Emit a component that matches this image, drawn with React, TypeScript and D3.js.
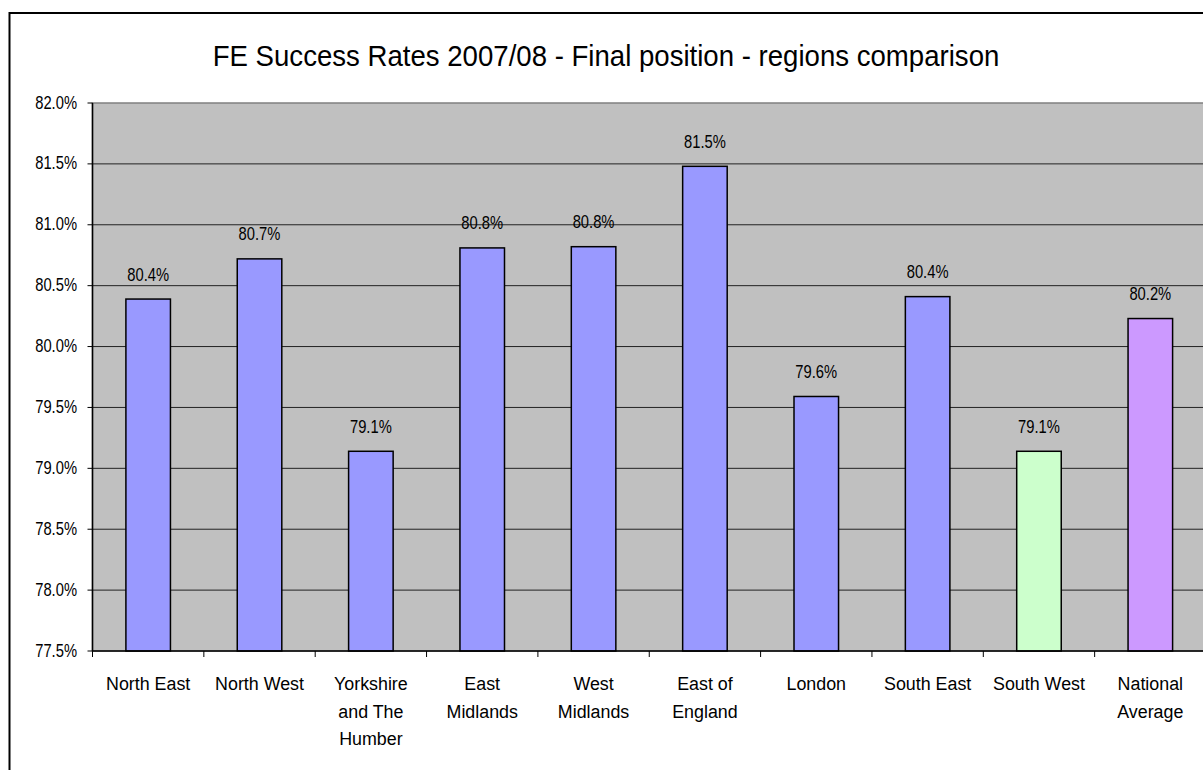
import React from 'react';
import { scaleBand, scaleLinear, range } from 'd3';

const categories = [
  ['North East'],
  ['North West'],
  ['Yorkshire', 'and The', 'Humber'],
  ['East', 'Midlands'],
  ['West', 'Midlands'],
  ['East of', 'England'],
  ['London'],
  ['South East'],
  ['South West'],
  ['National', 'Average'],
];
const rates = [80.39, 80.72, 79.14, 80.81, 80.82, 81.48, 79.59, 80.41, 79.14, 80.23];
const barColors = ['#9999FF', '#9999FF', '#9999FF', '#9999FF', '#9999FF', '#9999FF', '#9999FF', '#9999FF', '#CCFFCC', '#CC99FF'];
const yTicks = [77.5, 78.0, 78.5, 79.0, 79.5, 80.0, 80.5, 81.0, 81.5, 82.0];
const title = 'FE Success Rates 2007/08 - Final position - regions comparison';

const W = 1203;
const H = 770;
const plot = { left: 92.5, top: 103, right: 1206, bottom: 651 };

// text in the original is a bit narrower than Arial, so squeeze horizontally
const Txt = ({ x, y, size, sx, anchor = 'middle', children }: any) => (
  <text transform={`translate(${x},${y}) scale(${sx},1)`} textAnchor={anchor} fontSize={size} fill="#000">
    {children}
  </text>
);

const App = () => {
  const x = scaleBand<number>()
    .domain(range(categories.length))
    .range([plot.left, plot.right])
    .paddingInner(0.6)
    .paddingOuter(0.3);
  const y = scaleLinear().domain([77.5, 82.0]).range([plot.bottom, plot.top]);
  const bandStart = (i: number) => plot.left + i * x.step();
  const mid = (i: number) => (x(i) as number) + x.bandwidth() / 2;

  return (
    <svg width={W} height={H} style={{ position: 'absolute', left: 0, top: 0, fontFamily: 'Liberation Sans, Arial, sans-serif' }}>
      <rect x={0} y={0} width={W} height={H} fill="#fff" />
      {/* chart area border */}
      <rect x={9.5} y={13} width={W + 20} height={H + 20} fill="none" stroke="#000" strokeWidth={2} />

      <Txt x={606} y={66} size={30} sx={0.92}>{title}</Txt>

      {/* plot area */}
      <rect x={plot.left} y={plot.top} width={plot.right - plot.left} height={plot.bottom - plot.top} fill="#C0C0C0" stroke="#808080" strokeWidth={1.5} />

      {yTicks.map(t => (
        <g key={t}>
          {t > 77.5 && t < 82 && (
            <line x1={plot.left} x2={plot.right} y1={y(t)} y2={y(t)} stroke="#222" strokeWidth={1} />
          )}
          <line x1={plot.left - 5} x2={plot.left} y1={y(t)} y2={y(t)} stroke="#000" strokeWidth={1} />
          <Txt x={77} y={y(t) + 5.5} size={18} sx={0.82} anchor="end">{t.toFixed(1)}%</Txt>
        </g>
      ))}

      {rates.map((v, i) => (
        <g key={i}>
          <rect
            x={x(i)}
            y={y(v)}
            width={x.bandwidth()}
            height={plot.bottom - y(v)}
            fill={barColors[i]}
            stroke="#000"
            strokeWidth={1.5}
          />
          <Txt x={mid(i)} y={y(v) - 18.5} size={18} sx={0.82}>{v.toFixed(1)}%</Txt>
        </g>
      ))}

      {/* axes */}
      <line x1={plot.left} x2={plot.left} y1={plot.top} y2={plot.bottom} stroke="#000" strokeWidth={1.5} />
      <line x1={plot.left} x2={plot.right} y1={plot.bottom} y2={plot.bottom} stroke="#000" strokeWidth={1.5} />
      {range(categories.length + 1).map(i => (
        <line key={i} x1={bandStart(i)} x2={bandStart(i)} y1={plot.bottom} y2={plot.bottom + 6} stroke="#000" strokeWidth={1} />
      ))}

      {categories.map((lines, i) =>
        lines.map((l, j) => (
          <Txt key={`${i}-${j}`} x={mid(i)} y={690 + j * 27.5} size={19} sx={0.94}>{l}</Txt>
        ))
      )}
    </svg>
  );
};

export default App;
